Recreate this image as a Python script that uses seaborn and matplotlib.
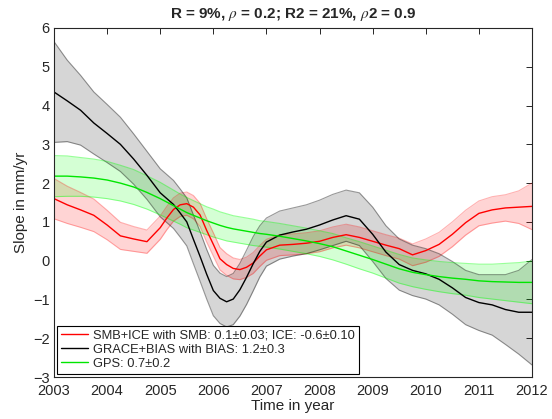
import numpy as np
import pandas as pd
import matplotlib
matplotlib.use("Agg")
import matplotlib.pyplot as plt
import seaborn as sns

# Time axis (years): quarterly, with eighth-year sampling through the 2005-2007 swing
years = [2003.00, 2003.25, 2003.50, 2003.75, 2004.00, 2004.25, 2004.50, 2004.75,
         2005.000, 2005.125, 2005.250, 2005.375, 2005.500, 2005.625, 2005.750, 2005.875,
         2006.000, 2006.125, 2006.250, 2006.375, 2006.500, 2006.625, 2006.750, 2006.875,
         2007.00, 2007.25, 2007.50, 2007.75, 2008.00, 2008.25, 2008.50, 2008.75,
         2009.00, 2009.25, 2009.50, 2009.75, 2010.00, 2010.25, 2010.50, 2010.75,
         2011.00, 2011.25, 2011.50, 2011.75, 2012.00]

# SMB+ICE slope and its uncertainty (mm/yr)
smb_ice = [1.60, 1.44, 1.31, 1.17, 0.92, 0.64, 0.56, 0.49,
           0.85, 1.10, 1.32, 1.44, 1.47, 1.38, 1.18, 0.78,
           0.42, 0.05, -0.10, -0.20, -0.23, -0.17, -0.06, 0.12,
           0.28, 0.40, 0.42, 0.45, 0.50, 0.60, 0.67, 0.60,
           0.50, 0.40, 0.31, 0.15, 0.26, 0.42, 0.68, 0.98,
           1.22, 1.31, 1.36, 1.38, 1.40]
smb_ice_err = [0.52, 0.48, 0.45, 0.42, 0.38, 0.35, 0.32, 0.30,
               0.30, 0.30, 0.30, 0.30, 0.30, 0.30, 0.30, 0.30,
               0.30, 0.29, 0.28, 0.27, 0.26, 0.26, 0.27, 0.27,
               0.27, 0.27, 0.27, 0.27, 0.27, 0.27, 0.27, 0.27,
               0.27, 0.27, 0.27, 0.28, 0.30, 0.31, 0.32, 0.32,
               0.32, 0.34, 0.34, 0.42, 0.60]

# GRACE+BIAS slope and its uncertainty (mm/yr)
grace = [4.35, 4.12, 3.88, 3.55, 3.28, 3.00, 2.62, 2.20,
         1.75, 1.60, 1.45, 1.23, 1.00, 0.55, 0.11, -0.35,
         -0.77, -0.97, -1.06, -0.99, -0.75, -0.43, -0.08, 0.24,
         0.48, 0.66, 0.74, 0.81, 0.92, 1.05, 1.16, 1.07,
         0.68, 0.22, -0.10, -0.25, -0.34, -0.48, -0.70, -0.95,
         -1.08, -1.14, -1.26, -1.33, -1.33]
grace_err = [1.30, 1.05, 0.90, 0.80, 0.75, 0.70, 0.65, 0.62,
             0.62, 0.62, 0.62, 0.62, 0.62, 0.63, 0.64, 0.64,
             0.65, 0.65, 0.65, 0.66, 0.68, 0.70, 0.70, 0.66,
             0.62, 0.62, 0.62, 0.63, 0.64, 0.66, 0.66, 0.68,
             0.70, 0.68, 0.66, 0.65, 0.65, 0.66, 0.68, 0.70,
             0.72, 0.78, 0.90, 1.08, 1.36]

# GPS slope and its uncertainty (mm/yr)
gps = [2.18, 2.18, 2.16, 2.13, 2.08, 2.00, 1.90, 1.76,
       1.60, 1.51, 1.42, 1.33, 1.24, 1.17, 1.10, 1.03,
       0.97, 0.91, 0.86, 0.82, 0.79, 0.76, 0.73, 0.70,
       0.68, 0.63, 0.57, 0.51, 0.44, 0.36, 0.25, 0.14,
       0.03, -0.09, -0.21, -0.30, -0.36, -0.41, -0.45, -0.48,
       -0.52, -0.54, -0.55, -0.56, -0.56]
gps_err = [0.53, 0.52, 0.50, 0.49, 0.48, 0.46, 0.45, 0.43,
           0.42, 0.41, 0.40, 0.39, 0.39, 0.38, 0.37, 0.36,
           0.36, 0.35, 0.35, 0.34, 0.34, 0.34, 0.34, 0.33,
           0.33, 0.33, 0.33, 0.33, 0.33, 0.34, 0.34, 0.35,
           0.35, 0.36, 0.37, 0.37, 0.38, 0.39, 0.40, 0.41,
           0.43, 0.45, 0.48, 0.51, 0.55]

labels = ["SMB+ICE with SMB: 0.1\u00b10.03; ICE: -0.6\u00b10.10",
          "GRACE+BIAS with BIAS: 1.2\u00b10.3",
          "GPS: 0.7\u00b10.2"]
title = r"R = 9%, $\rho$ = 0.2; R2 = 21%, $\rho$2 = 0.9"
x_ticks = [2003, 2004, 2005, 2006, 2007, 2008, 2009, 2010, 2011, 2012]
y_ticks = [-3, -2, -1, 0, 1, 2, 3, 4, 5, 6]

sns.set_style("white")
plt.rcParams["font.family"] = ["Liberation Sans", "DejaVu Sans"]
plt.rcParams["mathtext.fontset"] = "stix"

n = len(years)
df = pd.DataFrame({
    "year": years * 3,
    "slope": smb_ice + grace + gps,
    "err": smb_ice_err + grace_err + gps_err,
    "series": [labels[0]] * n + [labels[1]] * n + [labels[2]] * n,
})

palette = {labels[0]: "#ff0000", labels[1]: "#000000", labels[2]: "#00e600"}
band_face = {labels[0]: ("#ff0000", 0.17), labels[1]: ("#000000", 0.16), labels[2]: ("#00ff00", 0.17)}
band_edge = {labels[0]: ("#ff0000", 0.30), labels[1]: ("#000000", 0.40), labels[2]: ("#00ff00", 0.40)}

fig = plt.figure(figsize=(5.52, 4.19), dpi=100)
ax = fig.add_axes([0.0978, 0.1002, 0.866, 0.8330])

# uncertainty envelopes
for lab in labels:
    sub = df[df["series"] == lab]
    lo = sub["slope"] - sub["err"]
    hi = sub["slope"] + sub["err"]
    fc, fa = band_face[lab]
    ec, ea = band_edge[lab]
    ax.fill_between(sub["year"], lo, hi, color=fc, alpha=fa, linewidth=0)
    ax.plot(sub["year"], lo, color=ec, alpha=ea, lw=0.8)
    ax.plot(sub["year"], hi, color=ec, alpha=ea, lw=0.8)

# central estimates
sns.lineplot(data=df, x="year", y="slope", hue="series", hue_order=labels,
             palette=palette, linewidth=1.0, ax=ax, estimator=None, sort=False)

ax.set_xlim(2003, 2012)
ax.set_ylim(-3, 6)
ax.set_xticks(x_ticks)
ax.set_yticks(y_ticks)
ax.tick_params(direction="in", length=4, width=0.7, top=True, right=True,
               labelsize=10.5, colors="#262626")
ax.tick_params(axis="x", pad=5)
ax.tick_params(axis="y", pad=3)
for s in ax.spines.values():
    s.set_color("#262626")
    s.set_linewidth(0.8)

ax.set_xlabel("Time in year", fontsize=11, labelpad=1, color="#262626")
ax.set_ylabel("Slope in mm/yr", fontsize=11, labelpad=4, color="#262626")
ax.set_title(title, fontsize=11, fontweight="bold", pad=7)

leg = ax.legend(loc="lower left", fontsize=9.3, frameon=True, fancybox=False,
                edgecolor="black", framealpha=1, borderpad=0.3, labelspacing=0.15,
                handlelength=2.1, handletextpad=0.4, borderaxespad=0.25)
leg.get_frame().set_linewidth(0.8)

fig.savefig("out.png", dpi=100)
